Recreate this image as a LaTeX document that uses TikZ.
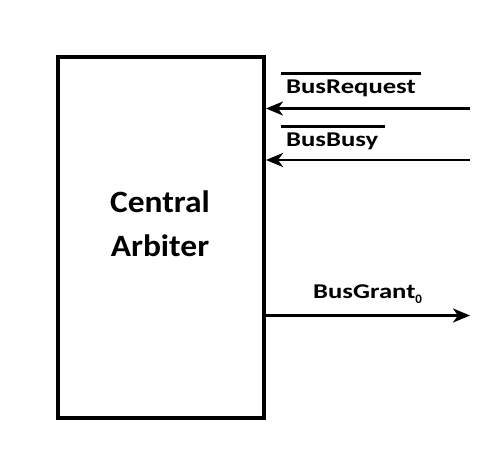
\documentclass[tikz,border=0pt]{standalone}
\usepackage{fontspec}
\usepackage{graphicx}
\setmainfont{Carlito}
\usetikzlibrary{arrows.meta, positioning, calc}
\tikzset{
  block/.style={draw, line width=4pt, minimum width=206pt, minimum height=361pt, inner sep=0pt},
  sig/.style={-{Stealth[length=17pt, width=14pt, inset=5pt]}, line width=2.8pt},
  lbl/.style={font=\bfseries\fontsize{21}{24}\selectfont, inner sep=0pt, anchor=base west},
  bar/.style={line width=2.8pt},
}
\newcommand{\wide}[1]{\scalebox{1.27}[1]{#1}}
\newcommand{\lowsub}[1]{\raisebox{-5pt}{\fontsize{13}{13}\selectfont #1}}

\begin{document}
\begin{tikzpicture}[x=1pt,y=-1pt]
\useasboundingbox (0,0) rectangle (494,462);
% arbiter block
\node[block] (arbiter) at (161,237.5) {};
\node[font=\bfseries\fontsize{31}{44}\selectfont, align=center] (name) at (160,224)
  {\scalebox{1.08}[1]{Central}\\\scalebox{1.08}[1]{Arbiter}};
% bus lines
\coordinate (reqin) at (470,108.5);
\coordinate (busyin) at (470,160);
\coordinate (grantout) at (470,315.5);
\draw[sig] (reqin) -- (reqin -| arbiter.east);
\draw[sig] (busyin) -- (busyin -| arbiter.east);
\draw[sig] (grantout -| arbiter.east) -- (grantout);
% labels, active low ones get a bar
\node[lbl] (reqlbl) at (286,94) {\wide{BusRequest}};
\node[lbl] (busylbl) at (286,147) {\wide{BusBusy}};
\node[lbl] (grantlbl) at (313,298) {\wide{BusGrant}\lowsub{0}};
\draw[bar] ([xshift=-5pt,yshift=7pt]reqlbl.north west) -- ([xshift=5pt,yshift=7pt]reqlbl.north east);
\draw[bar] ([xshift=-5pt,yshift=7pt]busylbl.north west) -- ([xshift=7pt,yshift=7pt]busylbl.north east);
\end{tikzpicture}
\end{document}
